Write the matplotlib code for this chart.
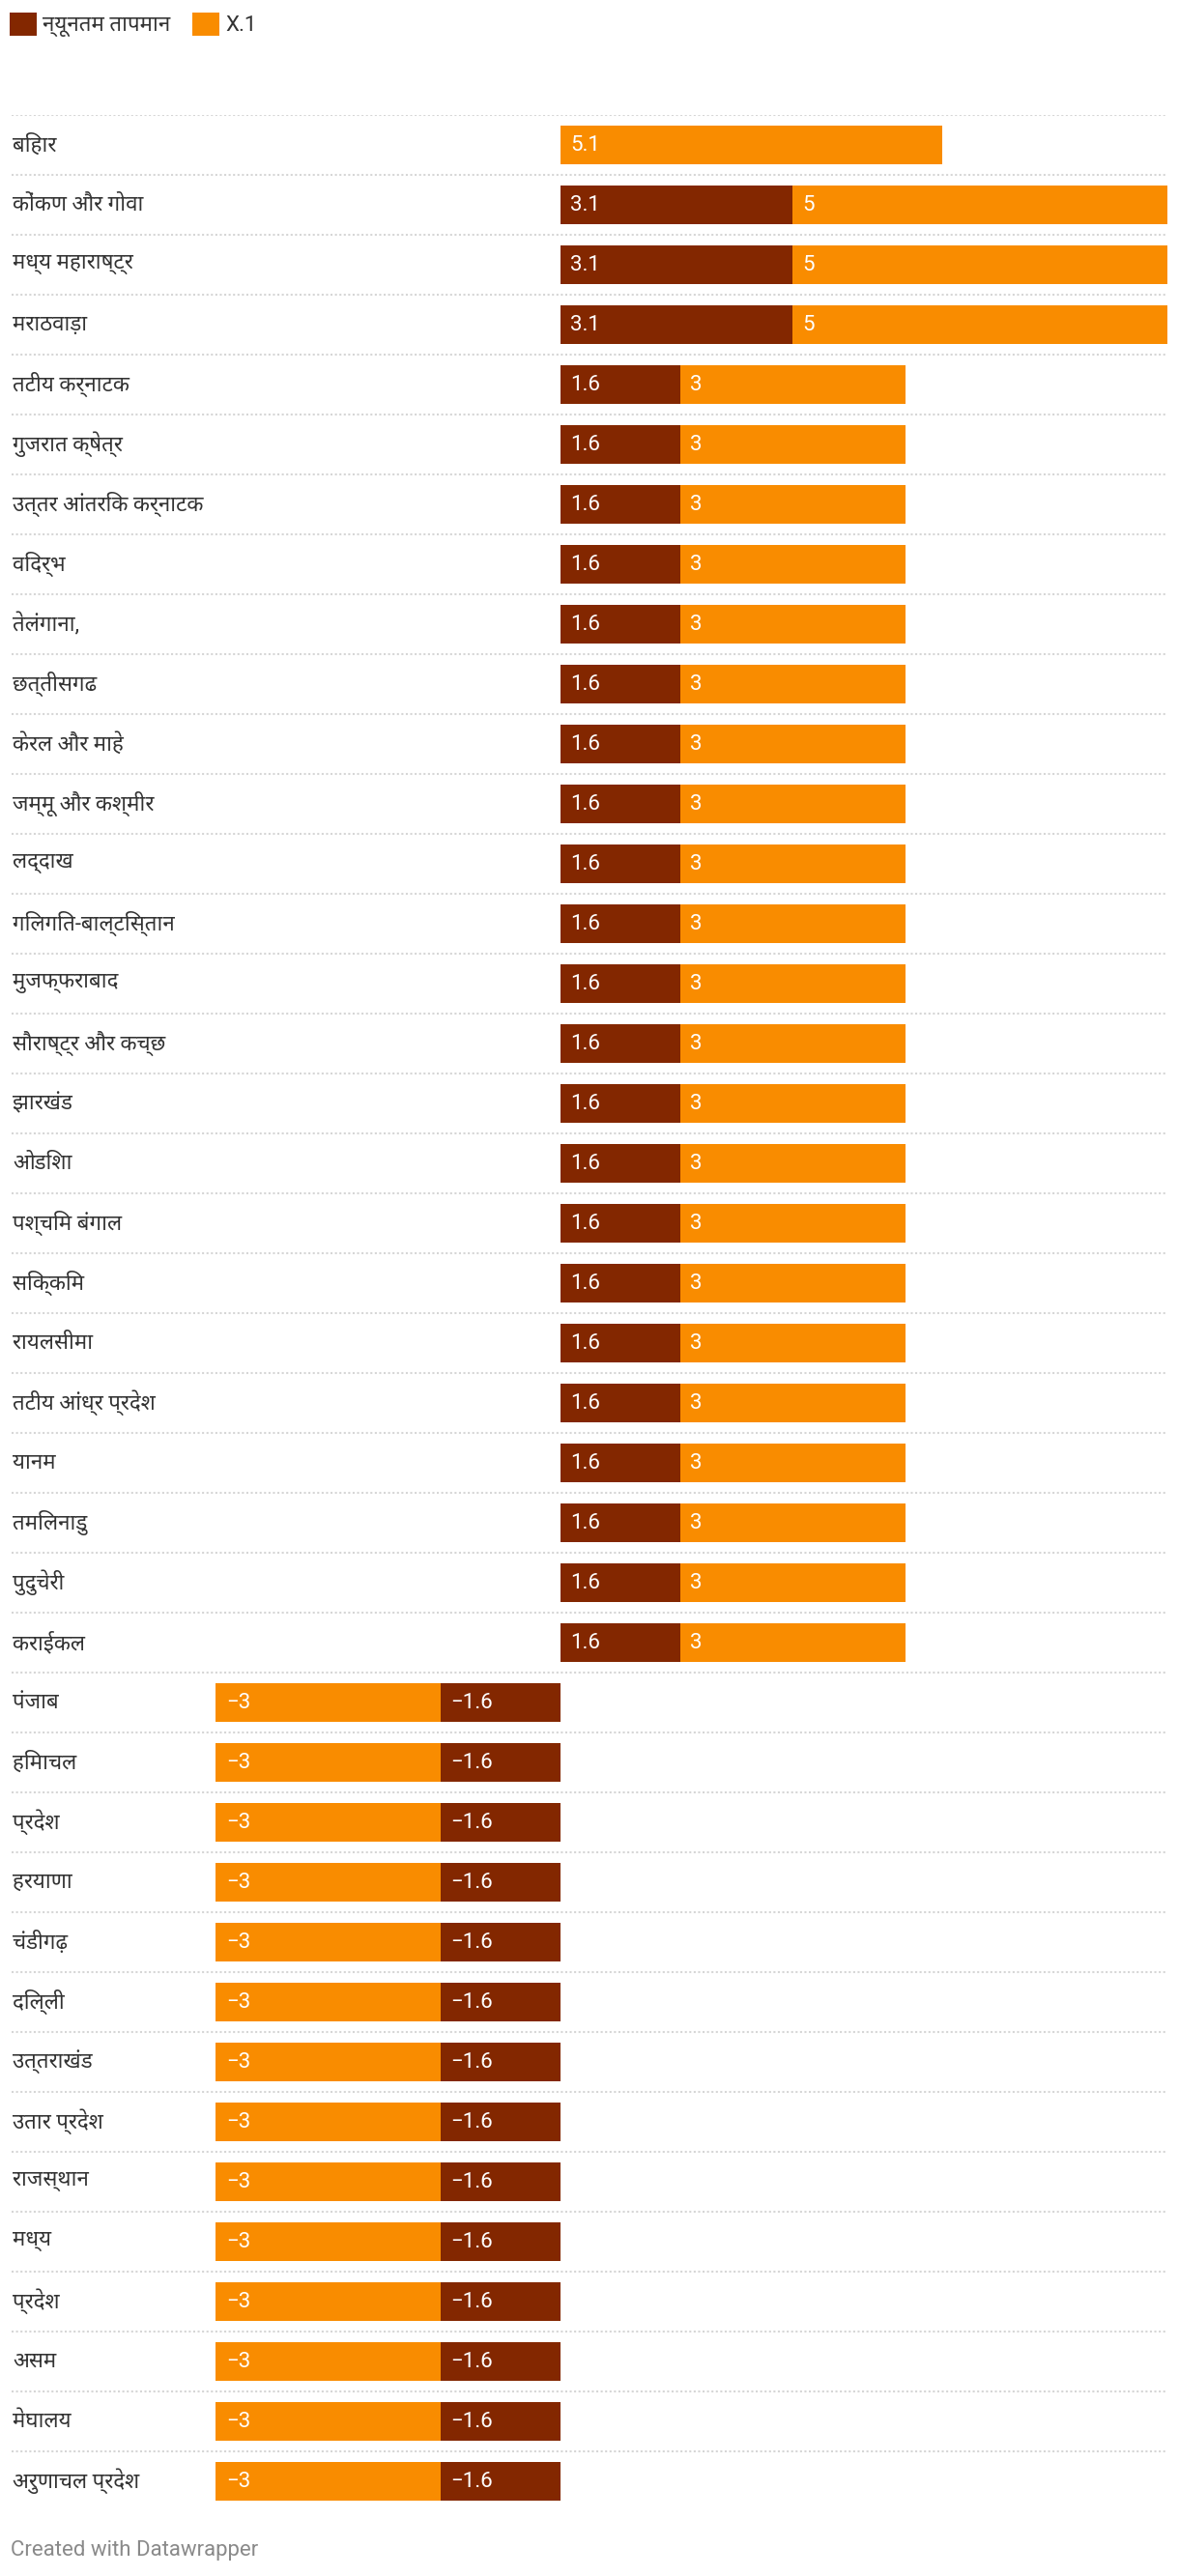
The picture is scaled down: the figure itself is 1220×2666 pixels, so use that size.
import matplotlib
matplotlib.use('Agg')
import matplotlib.pyplot as plt
import numpy as np

# Roboto for latin, Noto Sans Devanagari for the hindi labels
plt.rcParams['font.family'] = ['Roboto', 'Noto Sans Devanagari', 'DejaVu Sans']

regions = [
    'बिहार', 'कोंकण और गोवा', 'मध्य महाराष्ट्र', 'मराठवाड़ा', 'तटीय कर्नाटक',
    'गुजरात क्षेत्र', 'उत्तर आंतरिक कर्नाटक', 'विदर्भ', 'तेलंगाना,', 'छत्तीसगढ',
    'केरल और माहे', 'जम्मू और कश्मीर', 'लद्दाख', 'गिलगित-बाल्टिस्तान', 'मुजफ्फराबाद',
    'सौराष्ट्र और कच्छ', 'झारखंड', 'ओडिशा', 'पश्चिम बंगाल', 'सिक्किम',
    'रायलसीमा', 'तटीय आंध्र प्रदेश', 'यानम', 'तमिलनाडु', 'पुदुचेरी',
    'कराईकल', 'पंजाब', 'हिमाचल', 'प्रदेश', 'हरयाणा',
    'चंडीगढ़', 'दिल्ली', 'उत्तराखंड', 'उतार प्रदेश', 'राजस्थान',
    'मध्य', 'प्रदेश', 'असम', 'मेघालय', 'अरुणाचल प्रदेश',
]
min_temp = [
    np.nan, 3.1, 3.1, 3.1, 1.6, 1.6, 1.6, 1.6, 1.6, 1.6,
    1.6, 1.6, 1.6, 1.6, 1.6, 1.6, 1.6, 1.6, 1.6, 1.6,
    1.6, 1.6, 1.6, 1.6, 1.6, 1.6, -1.6, -1.6, -1.6, -1.6,
    -1.6, -1.6, -1.6, -1.6, -1.6, -1.6, -1.6, -1.6, -1.6, -1.6,
]
x1 = [
    5.1, 5, 5, 5, 3, 3, 3, 3, 3, 3,
    3, 3, 3, 3, 3, 3, 3, 3, 3, 3,
    3, 3, 3, 3, 3, 3, -3, -3, -3, -3,
    -3, -3, -3, -3, -3, -3, -3, -3, -3, -3,
]
series_names = ['न्यूनतम तापमान', 'X.1']
colors = ['#832700', '#f98c00']

W, H = 1220, 2666
fig = plt.figure(figsize=(W / 100, H / 100), dpi=100)

n = len(regions)
pitch = 62
top_px = 119
left_px, right_px, zero_px = 12, 1208, 580
ax = fig.add_axes([left_px / W, 1 - (top_px + n * pitch) / H,
                   (right_px - left_px) / W, n * pitch / H])

mins = np.array(min_temp, dtype=float)
vals = np.array(x1, dtype=float)
starts = np.nan_to_num(mins)
y = np.arange(n)
h = 40 / pitch

b1 = ax.barh(y, mins, height=h, color=colors[0], label=series_names[0])
b2 = ax.barh(y, vals, left=starts, height=h, color=colors[1], label=series_names[1])

xmax = np.nanmax(starts + vals)
zf = (zero_px - left_px) / (right_px - left_px)
ax.set_xlim(-xmax * zf / (1 - zf), xmax)
ax.set_ylim(n - 0.5, -0.5)
ax.axis('off')

# dotted row separators
for i in range(n):
    ax.axhline(i - 0.5, color='#d6d6d6', lw=1.5, ls=(0, (1, 1.2)), zorder=0)


def fmt(v):
    return ('%g' % v).replace('-', '\u2212')


for data, lefts in [(mins, np.zeros(n)), (vals, starts)]:
    for i in range(n):
        v = data[i]
        if np.isnan(v):
            continue
        x0 = min(lefts[i], lefts[i] + v)
        ax.annotate(fmt(v), (x0, i), xytext=(7.5, 0), textcoords='offset points',
                    ha='left', va='center', color='white', fontsize=16)

for i, name in enumerate(regions):
    ax.text(0.001, i, name, transform=ax.get_yaxis_transform(), ha='left',
            va='center', fontsize=16, color='#333333')

leg = fig.legend(handles=[b1, b2], loc='upper left',
                 bbox_to_anchor=(10 / W, 1 - 13 / H), ncol=2, frameon=False,
                 handlelength=1.25, handleheight=1.25,
                 handletextpad=0.3, columnspacing=1.0, borderpad=0,
                 borderaxespad=0, prop={'size': 16})
for t in leg.get_texts():
    t.set_color('#333333')

fig.text(11 / W, 1 - 2640 / H, 'Created with Datawrapper', ha='left', va='center',
         fontsize=16, color='#8a8a8a')

fig.savefig('out.png', dpi=100, facecolor='white')
